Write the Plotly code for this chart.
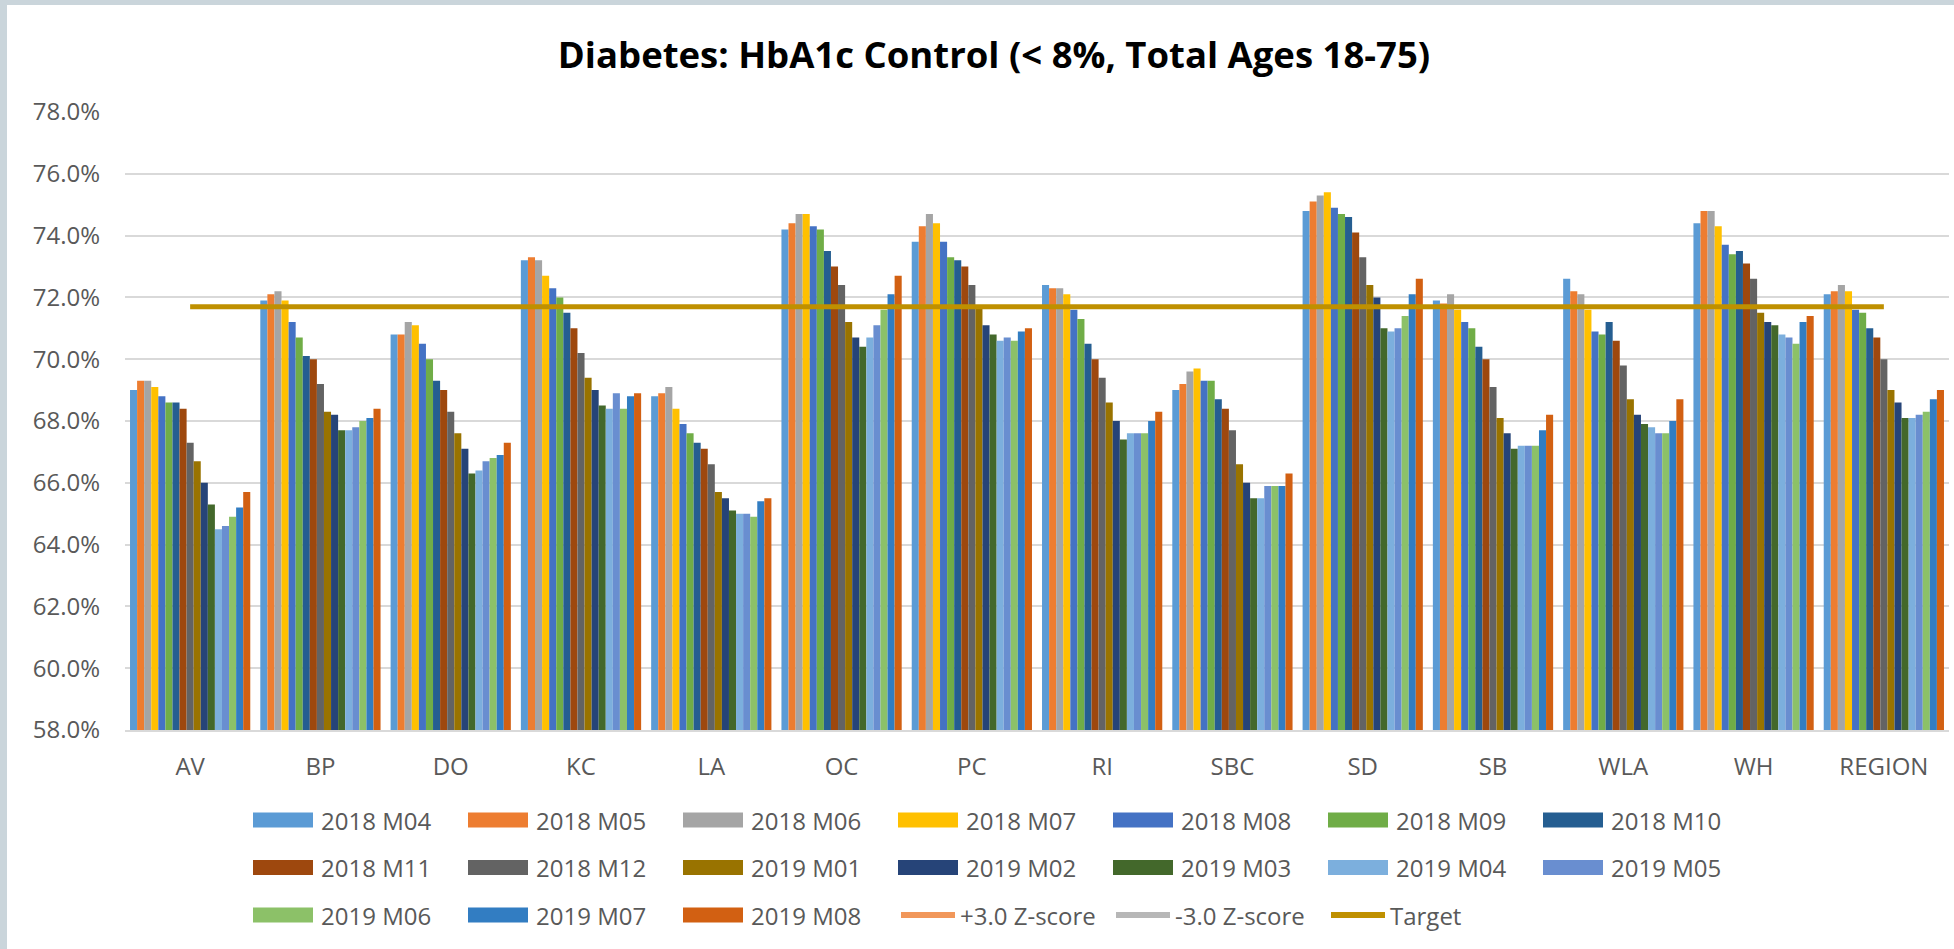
import plotly.graph_objects as go

categories = ["AV", "BP", "DO", "KC", "LA", "OC", "PC", "RI", "SBC", "SD", "SB", "WLA", "WH", "REGION"]

m2018_04 = [69.0, 71.9, 70.8, 73.2, 68.8, 74.2, 73.8, 72.4, 69.0, 74.8, 71.9, 72.6, 74.4, 72.1]
m2018_05 = [69.3, 72.1, 70.8, 73.3, 68.9, 74.4, 74.3, 72.3, 69.2, 75.1, 71.8, 72.2, 74.8, 72.2]
m2018_06 = [69.3, 72.2, 71.2, 73.2, 69.1, 74.7, 74.7, 72.3, 69.6, 75.3, 72.1, 72.1, 74.8, 72.4]
m2018_07 = [69.1, 71.9, 71.1, 72.7, 68.4, 74.7, 74.4, 72.1, 69.7, 75.4, 71.6, 71.6, 74.3, 72.2]
m2018_08 = [68.8, 71.2, 70.5, 72.3, 67.9, 74.3, 73.8, 71.6, 69.3, 74.9, 71.2, 70.9, 73.7, 71.6]
m2018_09 = [68.6, 70.7, 70.0, 72.0, 67.6, 74.2, 73.3, 71.3, 69.3, 74.7, 71.0, 70.8, 73.4, 71.5]
m2018_10 = [68.6, 70.1, 69.3, 71.5, 67.3, 73.5, 73.2, 70.5, 68.7, 74.6, 70.4, 71.2, 73.5, 71.0]
m2018_11 = [68.4, 70.0, 69.0, 71.0, 67.1, 73.0, 73.0, 70.0, 68.4, 74.1, 70.0, 70.6, 73.1, 70.7]
m2018_12 = [67.3, 69.2, 68.3, 70.2, 66.6, 72.4, 72.4, 69.4, 67.7, 73.3, 69.1, 69.8, 72.6, 70.0]
m2019_01 = [66.7, 68.3, 67.6, 69.4, 65.7, 71.2, 71.7, 68.6, 66.6, 72.4, 68.1, 68.7, 71.5, 69.0]
m2019_02 = [66.0, 68.2, 67.1, 69.0, 65.5, 70.7, 71.1, 68.0, 66.0, 72.0, 67.6, 68.2, 71.2, 68.6]
m2019_03 = [65.3, 67.7, 66.3, 68.5, 65.1, 70.4, 70.8, 67.4, 65.5, 71.0, 67.1, 67.9, 71.1, 68.1]
m2019_04 = [64.5, 67.7, 66.4, 68.4, 65.0, 70.7, 70.6, 67.6, 65.5, 70.9, 67.2, 67.8, 70.8, 68.1]
m2019_05 = [64.6, 67.8, 66.7, 68.9, 65.0, 71.1, 70.7, 67.6, 65.9, 71.0, 67.2, 67.6, 70.7, 68.2]
m2019_06 = [64.9, 68.0, 66.8, 68.4, 64.9, 71.6, 70.6, 67.6, 65.9, 71.4, 67.2, 67.6, 70.5, 68.3]
m2019_07 = [65.2, 68.1, 66.9, 68.8, 65.4, 72.1, 70.9, 68.0, 65.9, 72.1, 67.7, 68.0, 71.2, 68.7]
m2019_08 = [65.7, 68.4, 67.3, 68.9, 65.5, 72.7, 71.0, 68.3, 66.3, 72.6, 68.2, 68.7, 71.4, 69.0]

target = [71.7, 71.7, 71.7, 71.7, 71.7, 71.7, 71.7, 71.7, 71.7, 71.7, 71.7, 71.7, 71.7, 71.7]

series_names = ["2018 M04", "2018 M05", "2018 M06", "2018 M07", "2018 M08", "2018 M09",
                "2018 M10", "2018 M11", "2018 M12", "2019 M01", "2019 M02", "2019 M03",
                "2019 M04", "2019 M05", "2019 M06", "2019 M07", "2019 M08"]
series_values = [m2018_04, m2018_05, m2018_06, m2018_07, m2018_08, m2018_09, m2018_10,
                 m2018_11, m2018_12, m2019_01, m2019_02, m2019_03, m2019_04, m2019_05,
                 m2019_06, m2019_07, m2019_08]
series_colors = ["#5B9BD5", "#ED7D31", "#A5A5A5", "#FFC000", "#4472C4", "#70AD47",
                 "#255E91", "#9E480E", "#636363", "#997300", "#264478", "#43682B",
                 "#7CAFDD", "#698ED0", "#8CC168", "#327DC2", "#D26012"]
line_names = ["+3.0 Z-score", "-3.0 Z-score", "Target"]
line_colors = ["#F1975A", "#B7B7B7", "#BF9000"]

W, H = 1954, 949
ML, MR, MT, MB = 125, 5, 112, 219
PW, PH = W - ML - MR, H - MT - MB


def px_x(p):
    return (p - ML) / PW


def px_y(p):
    return (H - MB - p) / PH


fig = go.Figure()
for name, vals, col in zip(series_names, series_values, series_colors):
    fig.add_trace(go.Bar(x=categories, y=vals, name=name, marker=dict(color=col, line=dict(width=0)),
                         showlegend=False))

fig.add_trace(go.Scatter(x=categories, y=target, name="Target", mode="lines",
                         line=dict(color=line_colors[2], width=5), showlegend=False))

shapes = []
annotations = []
FONT = "Open Sans"
legend_items = [(n, c, "bar") for n, c in zip(series_names, series_colors)] + \
               [(n, c, "line") for n, c in zip(line_names, line_colors)]
for i, (name, col, kind) in enumerate(legend_items):
    row, colidx = divmod(i, 7)
    x0 = 253 + colidx * 215
    yc = 820 + row * 47.5
    if kind == "bar":
        shapes.append(dict(type="rect", xref="paper", yref="paper",
                           x0=px_x(x0), x1=px_x(x0 + 60), y0=px_y(yc + 7.5), y1=px_y(yc - 7.5),
                           fillcolor=col, line=dict(width=0)))
        tx = x0 + 66
    else:
        shapes.append(dict(type="line", xref="paper", yref="paper",
                           x0=px_x(x0 + 3), x1=px_x(x0 + 57), y0=px_y(yc), y1=px_y(yc),
                           line=dict(color=col, width=6)))
        tx = x0 + 60
    annotations.append(dict(text=name, xref="paper", yref="paper", x=px_x(tx), y=px_y(yc),
                            xanchor="left", yanchor="middle", showarrow=False,
                            font=dict(family=FONT, size=24, color="#595959")))

# decorative frame strips
shapes.append(dict(type="rect", xref="paper", yref="paper", x0=px_x(0), x1=px_x(7),
                   y0=px_y(H), y1=px_y(0), fillcolor="#CAD5DB", line=dict(width=0), layer="below"))
shapes.append(dict(type="rect", xref="paper", yref="paper", x0=px_x(0), x1=px_x(W),
                   y0=px_y(5), y1=px_y(0), fillcolor="#CAD5DB", line=dict(width=0), layer="below"))

fig.update_layout(
    width=W, height=H,
    margin=dict(l=ML, r=MR, t=MT, b=MB, pad=0),
    paper_bgcolor="white", plot_bgcolor="white",
    barmode="group", bargap=0.077, bargroupgap=0,
    title=dict(text="<b>Diabetes: HbA1c Control (< 8%, Total Ages 18-75)</b>",
               x=994 / W, xanchor="center", xref="container",
               y=1 - 55 / H, yanchor="middle", yref="container",
               font=dict(family=FONT, size=36.5, color="#000000")),
    xaxis=dict(showgrid=False, showline=True, linecolor="#D9D9D9", linewidth=2,
               ticks="", ticklabelstandoff=14,
               tickfont=dict(family=FONT, size=24, color="#595959")),
    yaxis=dict(range=[58, 78], dtick=2, tickformat=".1f", ticksuffix="%",
               showgrid=True, gridcolor="#D9D9D9", gridwidth=2, zeroline=False,
               showline=False, ticks="", ticklabelstandoff=24,
               tickfont=dict(family=FONT, size=24, color="#595959")),
    shapes=shapes, annotations=annotations, showlegend=False,
)

fig.write_html("out.html", config={"displayModeBar": False},
               post_script="document.body.style.margin='0px';document.body.style.overflow='hidden';")
